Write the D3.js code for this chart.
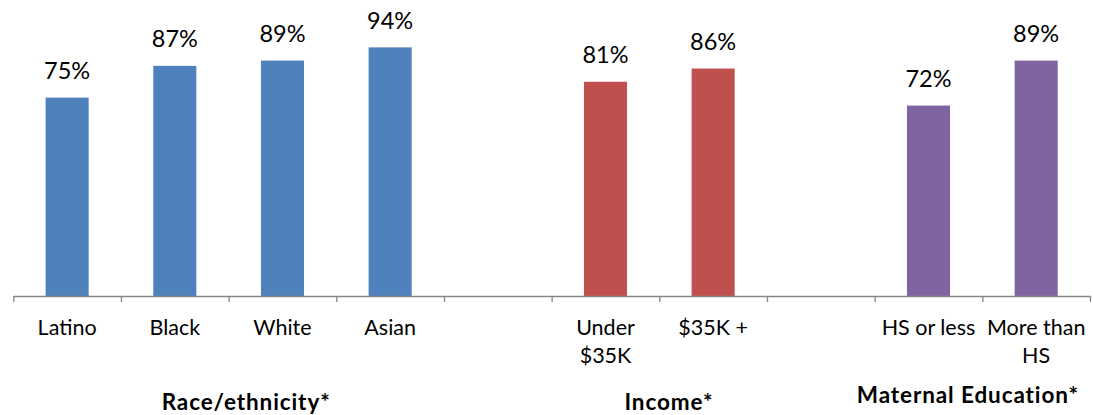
<!DOCTYPE html>
<html>
<head>
<meta charset="utf-8">
<script src="https://cdn.jsdelivr.net/npm/d3@7"></script>
<style>
  html, body { margin: 0; padding: 0; background: #fff; }
  svg { display: block; font-family: Lato, "Noto Sans", sans-serif; }
</style>
</head>
<body>
<svg id="chart"></svg>
<script>
// chart values
const categories = ["Latino", "Black", "White", "Asian", "", "Under $35K", "$35K +", "", "HS or less", "More than HS"];
const values = [0.75, 0.87, 0.89, 0.94, null, 0.81, 0.86, null, 0.72, 0.89];
const valueLabels = ["75%", "87%", "89%", "94%", "", "81%", "86%", "", "72%", "89%"];
const groupNames = ["Race/ethnicity*", "Income*", "Maternal Education*"];
const groupFirst = [0, 5, 8];
const groupLast = [3, 6, 9];
const groupColors = ["#4f81bd", "#c0504d", "#8064a2"];

const width = 1093, height = 415;
const margin = {top: 31.5, left: 13.3, right: 3, bottom: 119};

const svg = d3.select("#chart")
    .attr("width", width)
    .attr("height", height);

const n = categories.length;
const slot = d3.scaleBand()
    .domain(d3.range(n))
    .range([margin.left, width - margin.right]);

// category boundaries for the tick marks
const edge = d3.scaleLinear()
    .domain([0, n])
    .range([margin.left, width - margin.right]);

const y = d3.scaleLinear()
    .domain([0, 1])
    .range([height - margin.bottom, margin.top]);

const colorOf = i => {
    const g = groupFirst.findIndex((f, k) => i >= f && i <= groupLast[k]);
    return groupColors[g];
};

const barW = slot.bandwidth() * 0.4;
const data = values.map((v, i) => ({i, v, label: valueLabels[i]})).filter(d => d.v != null);

// bars
svg.append("g")
    .selectAll("rect")
    .data(data)
    .join("rect")
    .attr("x", d => slot(d.i) + (slot.bandwidth() - barW) / 2)
    .attr("y", d => y(d.v))
    .attr("width", barW)
    .attr("height", d => y(0) - y(d.v))
    .attr("fill", d => colorOf(d.i));

// value labels
svg.append("g")
    .selectAll("text")
    .data(data)
    .join("text")
    .attr("x", d => slot(d.i) + slot.bandwidth() / 2)
    .attr("y", d => y(d.v) - 18.7)
    .attr("text-anchor", "middle")
    .attr("font-size", 23.5)
    .attr("fill", "#000")
    .text(d => d.label);

// x axis, ticks between categories
const axis_g = svg.append("g")
    .attr("transform", `translate(0, ${y(0)})`)
    .call(d3.axisBottom(edge).ticks(n).tickSize(6).tickSizeOuter(0).tickFormat(""));
axis_g.select(".domain").attr("stroke", "#868686").attr("stroke-width", 1.3);
axis_g.selectAll(".tick line").attr("stroke", "#868686").attr("stroke-width", 1.3);

// category labels, wrapped to the slot width
const cat_g = svg.append("g").attr("font-size", 21.5).attr("fill", "#000");
categories.forEach((c, i) => {
    if (!c) return;
    const cx = slot(i) + slot.bandwidth() / 2;
    const t = cat_g.append("text")
        .attr("x", cx)
        .attr("y", 335.3)
        .attr("text-anchor", "middle");
    let line = [];
    let tspan = t.append("tspan").attr("x", cx);
    c.split(" ").forEach(w => {
        line.push(w);
        tspan.text(line.join(" "));
        if (tspan.node().getComputedTextLength() > slot.bandwidth() && line.length > 1) {
            line.pop();
            tspan.text(line.join(" "));
            line = [w];
            tspan = t.append("tspan")
                .attr("x", cx)
                .attr("dy", 28)
                .text(w);
        }
    });
});

// group titles (text boxes nudged like the original)
const titleNudge = [17.5, 9.6, -14.5];
const titleBase = [409.5, 409.5, 403.3];
svg.append("g")
    .selectAll("text")
    .data(groupNames)
    .join("text")
    .attr("x", (d, k) => (slot(groupFirst[k]) + slot(groupLast[k]) + slot.bandwidth()) / 2 + titleNudge[k])
    .attr("y", (d, k) => titleBase[k])
    .attr("text-anchor", "middle")
    .attr("font-size", 22.5)
    .attr("letter-spacing", 0.9)
    .attr("font-weight", "bold")
    .attr("fill", "#000")
    .text(d => d);
</script>
</body>
</html>
